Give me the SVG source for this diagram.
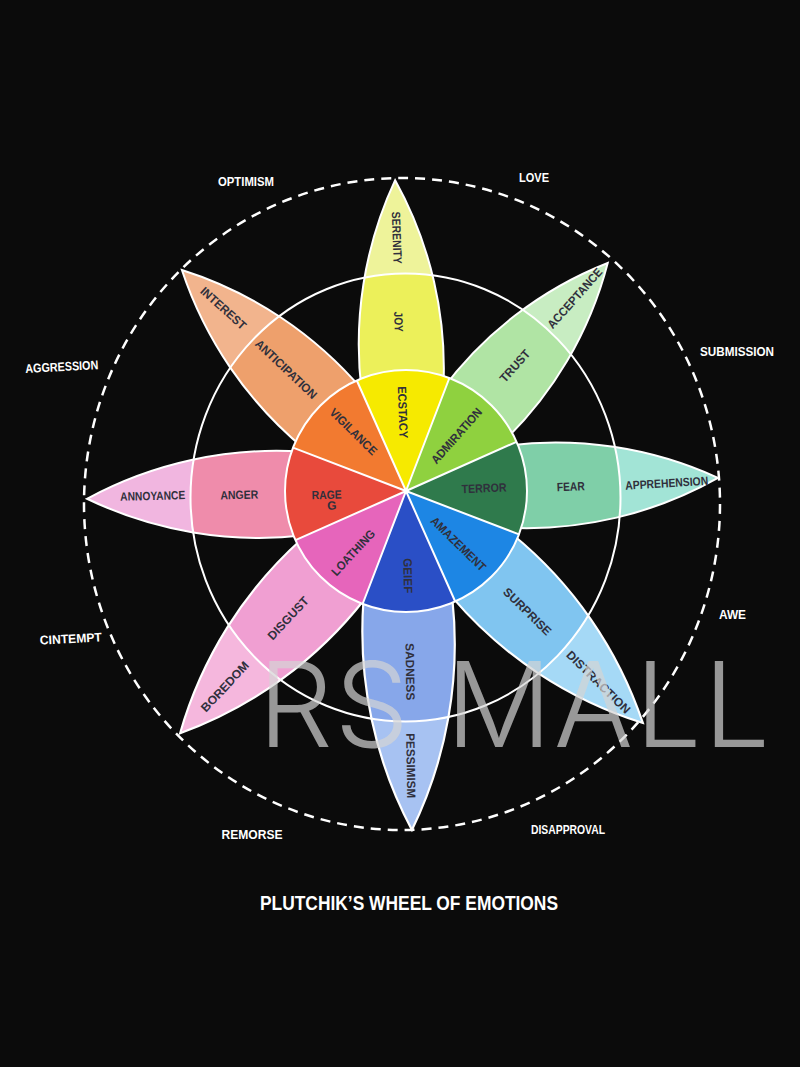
<svg xmlns="http://www.w3.org/2000/svg" width="800" height="1067" viewBox="0 0 800 1067">
<style>
.pt{font-family:"Liberation Sans",Arial,sans-serif;font-weight:700;font-size:12px;fill:#30303c;text-anchor:middle;dominant-baseline:central}
.ol{font-family:"Liberation Sans",Arial,sans-serif;font-weight:700;font-size:12.5px;fill:#ffffff;text-anchor:middle}
.edge{fill:none;stroke:#ffffff;stroke-width:2}
.sep{stroke:#ffffff;stroke-width:2;fill:none}
</style>
<defs>
<path id="pp" d="M100,-40.8 A388.3,388.3 0 0 1 311,0 A388.3,388.3 0 0 1 100,40.8 Z"/>
<clipPath id="ci"><ellipse cx="405.5" cy="497.5" rx="215" ry="224"/></clipPath>
</defs>
<rect width="800" height="1067" fill="#0b0b0b"/>

<ellipse id="outer-ring" cx="402" cy="504" rx="318" ry="326" fill="none" stroke="#ffffff" stroke-width="2.5" stroke-dasharray="10 7"/>

<g id="petals">
<g id="petal-joy">
<use href="#pp" transform="translate(406,491) rotate(-92)" fill="#eef39a"/>
<g clip-path="url(#ci)"><use href="#pp" transform="translate(406,491) rotate(-92)" fill="#ecf05a"/></g>
<use href="#pp" transform="translate(406,491) rotate(-92)" class="edge"/>
<text class="pt" transform="translate(396.7,237.7) rotate(88)" textLength="52" lengthAdjust="spacingAndGlyphs">SERENITY</text>
<text class="pt" transform="translate(398.3,321.7) rotate(88)" textLength="20" lengthAdjust="spacingAndGlyphs">JOY</text>
</g>
<g id="petal-trust">
<use href="#pp" transform="translate(406,491) rotate(-48.5) scale(0.979)" fill="#c8edc2"/>
<g clip-path="url(#ci)"><use href="#pp" transform="translate(406,491) rotate(-48.5) scale(0.979)" fill="#b0e4a4"/></g>
<use href="#pp" transform="translate(406,491) rotate(-48.5) scale(0.979)" class="edge"/>
<text class="pt" transform="translate(515,366) rotate(-48.5)" textLength="39" lengthAdjust="spacingAndGlyphs">TRUST</text>
<text class="pt" transform="translate(575,298.3) rotate(-48.5)" textLength="76" lengthAdjust="spacingAndGlyphs">ACCEPTANCE</text>
</g>
<g id="petal-fear">
<use href="#pp" transform="translate(406,491) rotate(-2.4) scale(1.004)" fill="#a2e4d6"/>
<g clip-path="url(#ci)"><use href="#pp" transform="translate(406,491) rotate(-2.4) scale(1.004)" fill="#7fcfa8"/></g>
<use href="#pp" transform="translate(406,491) rotate(-2.4) scale(1.004)" class="edge"/>
<text class="pt" transform="translate(570.7,486.7) rotate(-2.4)" textLength="28" lengthAdjust="spacingAndGlyphs">FEAR</text>
<text class="pt" transform="translate(666.7,483.3) rotate(-3.5)" textLength="83" lengthAdjust="spacingAndGlyphs">APPREHENSION</text>
</g>
<g id="petal-surprise">
<use href="#pp" transform="translate(406,491) rotate(44.4) scale(1.066)" fill="#a5d9f6"/>
<g clip-path="url(#ci)"><use href="#pp" transform="translate(406,491) rotate(44.4) scale(1.066)" fill="#80c5f0"/></g>
<use href="#pp" transform="translate(406,491) rotate(44.4) scale(1.066)" class="edge"/>
<text class="pt" transform="translate(527.3,611.7) rotate(44.4)" textLength="62" lengthAdjust="spacingAndGlyphs">SURPRISE</text>
<text class="pt" transform="translate(598.3,682.3) rotate(44.4)" textLength="84" lengthAdjust="spacingAndGlyphs">DISTRACTION</text>
</g>
<g id="petal-sadness">
<use href="#pp" transform="translate(406,491) rotate(89) scale(1.09)" fill="#a7c2f2"/>
<g clip-path="url(#ci)"><use href="#pp" transform="translate(406,491) rotate(89) scale(1.09)" fill="#87a7ea"/></g>
<use href="#pp" transform="translate(406,491) rotate(89) scale(1.09)" class="edge"/>
<text class="pt" transform="translate(410,671.7) rotate(89)" textLength="57" lengthAdjust="spacingAndGlyphs">SADNESS</text>
<text class="pt" transform="translate(410.7,765.7) rotate(89)" textLength="65" lengthAdjust="spacingAndGlyphs">PESSIMISM</text>
</g>
<g id="petal-disgust">
<use href="#pp" transform="translate(406,491) rotate(133) scale(1.065)" fill="#f5b7dd"/>
<g clip-path="url(#ci)"><use href="#pp" transform="translate(406,491) rotate(133) scale(1.065)" fill="#f09fd2"/></g>
<use href="#pp" transform="translate(406,491) rotate(133) scale(1.065)" class="edge"/>
<text class="pt" transform="translate(288.3,618.3) rotate(-47)" textLength="54" lengthAdjust="spacingAndGlyphs">DISGUST</text>
<text class="pt" transform="translate(225,686.7) rotate(-47)" textLength="64" lengthAdjust="spacingAndGlyphs">BOREDOM</text>
</g>
<g id="petal-anger">
<use href="#pp" transform="translate(406,491) rotate(178.6) scale(1.026)" fill="#f1b6e0"/>
<g clip-path="url(#ci)"><use href="#pp" transform="translate(406,491) rotate(178.6) scale(1.026)" fill="#ef8cab"/></g>
<use href="#pp" transform="translate(406,491) rotate(178.6) scale(1.026)" class="edge"/>
<text class="pt" transform="translate(239.3,495) rotate(-1.4)" textLength="38" lengthAdjust="spacingAndGlyphs">ANGER</text>
<text class="pt" transform="translate(152.7,496) rotate(-1.4)" textLength="65" lengthAdjust="spacingAndGlyphs">ANNOYANCE</text>
</g>
<g id="petal-anticipation">
<use href="#pp" transform="translate(406,491) rotate(-135.4) scale(1.012)" fill="#f2b48d"/>
<g clip-path="url(#ci)"><use href="#pp" transform="translate(406,491) rotate(-135.4) scale(1.012)" fill="#eea06c"/></g>
<use href="#pp" transform="translate(406,491) rotate(-135.4) scale(1.012)" class="edge"/>
<text class="pt" transform="translate(286,369.3) rotate(43.5)" textLength="80" lengthAdjust="spacingAndGlyphs">ANTICIPATION</text>
<text class="pt" transform="translate(223.3,308.3) rotate(42)" textLength="57" lengthAdjust="spacingAndGlyphs">INTEREST</text>
</g>
</g>

<ellipse id="inner-ring" cx="405.5" cy="497.5" rx="215" ry="224" fill="none" stroke="#ffffff" stroke-width="2"/>

<g id="core">
<path id="core-ecstasy" d="M406,491 L356.8,380.5 A121,121 0 0 1 449.4,378 Z" fill="#f6ea00"/>
<path id="core-admiration" d="M406,491 L449.4,378 A121,121 0 0 1 516.5,441.8 Z" fill="#8fd13f"/>
<path id="core-terror" d="M406,491 L516.5,441.8 A121,121 0 0 1 519,534.4 Z" fill="#2f7a4c"/>
<path id="core-amazement" d="M406,491 L519,534.4 A121,121 0 0 1 455.2,601.5 Z" fill="#1d86e4"/>
<path id="core-grief" d="M406,491 L455.2,601.5 A121,121 0 0 1 362.6,604 Z" fill="#2a4fc6"/>
<path id="core-loathing" d="M406,491 L362.6,604 A121,121 0 0 1 295.5,540.2 Z" fill="#e665bb"/>
<path id="core-rage" d="M406,491 L295.5,540.2 A121,121 0 0 1 293,447.6 Z" fill="#e84a3c"/>
<path id="core-vigilance" d="M406,491 L293,447.6 A121,121 0 0 1 356.8,380.5 Z" fill="#f27a30"/>
<path class="sep" d="M406,491 L356.8,380.5 M406,491 L449.4,378 M406,491 L516.5,441.8 M406,491 L519,534.4 M406,491 L455.2,601.5 M406,491 L362.6,604 M406,491 L295.5,540.2 M406,491 L293,447.6"/>
<circle cx="406" cy="491" r="121" class="sep"/>
<text class="pt" transform="translate(402.7,412.3) rotate(88)" textLength="52" lengthAdjust="spacingAndGlyphs">ECSTACY</text>
<text class="pt" transform="translate(456.7,436) rotate(-48.5)" textLength="70" lengthAdjust="spacingAndGlyphs">ADMIRATION</text>
<text class="pt" transform="translate(484,488.3) rotate(-2.4)" textLength="45" lengthAdjust="spacingAndGlyphs">TERROR</text>
<text class="pt" transform="translate(458.3,544) rotate(44.4)" textLength="72" lengthAdjust="spacingAndGlyphs">AMAZEMENT</text>
<text class="pt" transform="translate(407.7,575.7) rotate(89)" textLength="35" lengthAdjust="spacingAndGlyphs">GEIEF</text>
<text class="pt" transform="translate(353.3,552.7) rotate(-47)" textLength="58" lengthAdjust="spacingAndGlyphs">LOATHING</text>
<text class="pt" transform="translate(326.7,495) rotate(-1.4)" textLength="30" lengthAdjust="spacingAndGlyphs">RAGE</text>
<text class="pt" transform="translate(331.7,505.7) rotate(-1.4)">G</text>
<text class="pt" transform="translate(353.3,431.7) rotate(44.6)" textLength="61" lengthAdjust="spacingAndGlyphs">VIGILANCE</text>
</g>

<g id="dyads">
<text class="ol" x="246" y="186" textLength="56" lengthAdjust="spacingAndGlyphs">OPTIMISM</text>
<text class="ol" x="534" y="182" textLength="30" lengthAdjust="spacingAndGlyphs">LOVE</text>
<text class="ol" x="737" y="356" textLength="74" lengthAdjust="spacingAndGlyphs">SUBMISSION</text>
<text class="ol" x="732.5" y="619" textLength="27" lengthAdjust="spacingAndGlyphs">AWE</text>
<text class="ol" x="568" y="834" textLength="74" lengthAdjust="spacingAndGlyphs">DISAPPROVAL</text>
<text class="ol" x="252" y="839" textLength="61" lengthAdjust="spacingAndGlyphs">REMORSE</text>
<text class="ol" transform="translate(71,643) rotate(-3)" textLength="62" lengthAdjust="spacingAndGlyphs">CINTEMPT</text>
<text class="ol" transform="translate(62,371) rotate(-3)" textLength="73" lengthAdjust="spacingAndGlyphs">AGGRESSION</text>
</g>

<text id="title" x="409" y="910" font-family="Liberation Sans, Arial, sans-serif" font-weight="700" font-size="20" fill="#ffffff" text-anchor="middle" textLength="298" lengthAdjust="spacingAndGlyphs">PLUTCHIK’S WHEEL OF EMOTIONS</text>

<text id="watermark" x="258" y="747" font-family="Inter, Lato, 'Liberation Sans', sans-serif" font-weight="300" font-size="118" fill="#d4d4d4" fill-opacity="0.7" textLength="512" lengthAdjust="spacing">RS MALL</text>
</svg>
